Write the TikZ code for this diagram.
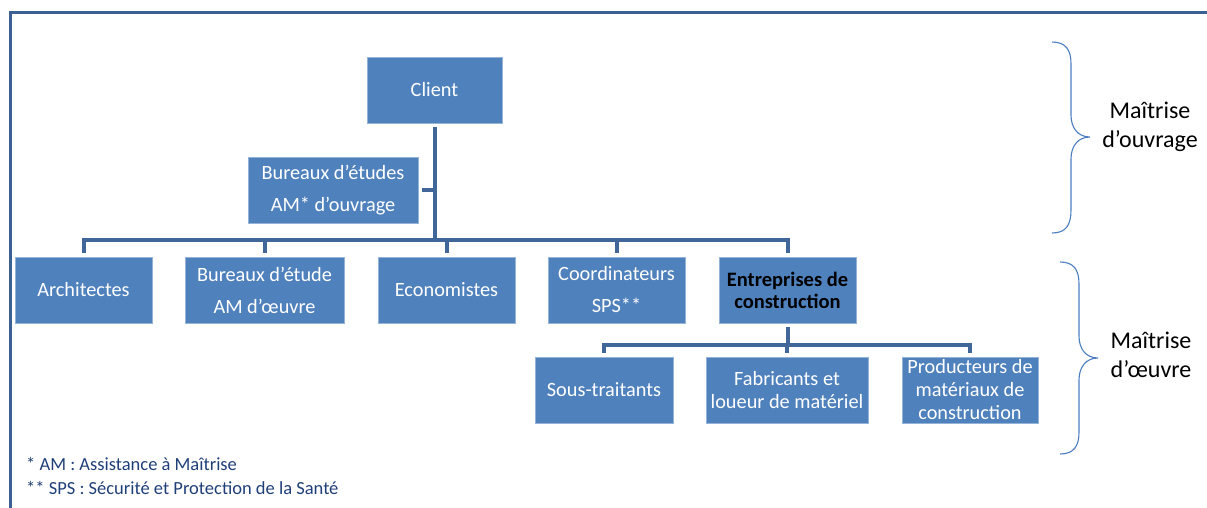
\documentclass[tikz,border=0pt]{standalone}
\usepackage{fontspec}
\setmainfont{Carlito}
\definecolor{boxblue}{HTML}{4F81BD}
\definecolor{connblue}{HTML}{41669A}
\definecolor{framebl}{HTML}{3C6092}
\definecolor{bracebl}{HTML}{4A7EC0}
\definecolor{notebl}{HTML}{1F3F78}
\tikzset{
  box/.style={fill=boxblue, draw=boxblue!60!white, line width=0.8pt, text=white, align=center,
    inner sep=0pt, minimum height=66pt, font=\fontsize{20.3}{23}\selectfont},
  widebox/.style={box, font=\fontsize{20.3}{32}\selectfont},
  conn/.style={draw=connblue, line width=4pt, line join=miter},
  framestyle/.style={draw=framebl, line width=3pt},
  bracestyle/.style={draw=bracebl, line width=1.1pt},
  sidelabel/.style={align=center, inner sep=0pt, font=\fontsize{24}{29}\selectfont},
  notestyle/.style={anchor=base west, inner sep=0pt, text=notebl, font=\fontsize{18.5}{20}\selectfont}
}
\begin{document}
\begin{tikzpicture}[x=1pt,y=-1pt]
\useasboundingbox (0,0) rectangle (1207,507);
\clip (0,0) rectangle (1207,507);
\draw[framestyle] (10,12) rectangle (1240,540);

% nodes
\node[box, minimum width=135pt] (client) at (434.5,90) {Client};
\node[widebox, minimum width=170pt] (beou) at (333,190) {Bureaux d’études\\AM* d’ouvrage};

\node[box, minimum width=137pt] (arch) at (83.5,290) {Architectes};
\node[widebox, minimum width=159pt] (beo) at (264.5,290) {Bureaux d’étude\\AM d’œuvre};
\node[box, minimum width=137pt] (eco) at (446.5,290) {Economistes};
\node[widebox, minimum width=137pt] (coord) at (616.5,290) {Coordinateurs\\SPS**};
\node[box, minimum width=137pt, text=black, font=\fontsize{20.5}{22}\selectfont\bfseries] (entr) at (787.5,290) {Entreprises de\\construction};

\node[box, minimum width=138pt] (sous) at (604,390) {Sous-traitants};
\node[box, minimum width=162pt] (fab) at (787,390) {Fabricants et\\loueur de matériel};
\node[box, minimum width=136pt] (prod) at (970,390) {Producteurs de\\matériaux de\\construction};

% connectors
\coordinate (bus) at (434.5,240);
\draw[conn] ([yshift=-4pt]client.south) -- (bus);
\draw[conn] ([xshift=4pt]beou.east) -- (beou.east -| bus);
\draw[conn] ([yshift=4pt]arch.north) |- (bus) -| ([yshift=4pt]entr.north);
\foreach \n in {beo,eco,coord}{
  \draw[conn] ([yshift=4pt]\n.north) -- (\n.north |- bus);
}
\coordinate (sbus) at (787.5,345);
\draw[conn] ([yshift=-4pt]entr.south) -- (sbus);
\draw[conn] ([yshift=4pt]sous.north) |- (sbus) -| ([yshift=4pt]prod.north);
\draw[conn] ([yshift=4pt]fab.north) -- (fab.north |- sbus);

% braces
\draw[bracestyle] (1052,42) .. controls (1066,42) and (1071,50) .. (1071,64) -- (1071,115)
  .. controls (1071,128) and (1078,137) .. (1090,137)
  .. controls (1078,137) and (1071,146) .. (1071,159) -- (1071,210)
  .. controls (1071,225) and (1066,233) .. (1052,233);
\draw[bracestyle] (1060,262) .. controls (1074,262) and (1079,270) .. (1079,284) -- (1079,336)
  .. controls (1079,349) and (1086,358) .. (1098,358)
  .. controls (1086,358) and (1079,367) .. (1079,380) -- (1079,432)
  .. controls (1079,446) and (1074,454) .. (1060,454);

\node[sidelabel] (mo) at (1150,127) {Maîtrise\\d’ouvrage};
\node[sidelabel] (moe) at (1151,355) {Maîtrise\\d’œuvre};

% footnotes
\node[notestyle] (n1) at (26,470) {* AM : Assistance à Maîtrise};
\node[notestyle] (n2) at (26,494) {** SPS : Sécurité et Protection de la Santé};
\end{tikzpicture}
\end{document}
